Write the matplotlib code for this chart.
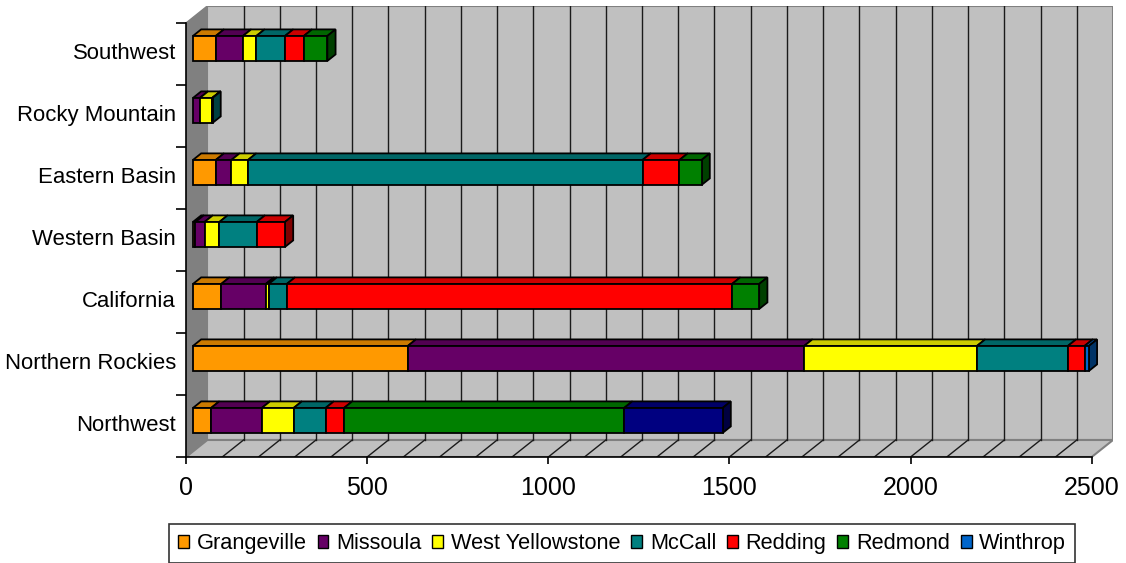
import matplotlib
matplotlib.use("Agg")
import matplotlib.pyplot as plt
from matplotlib.patches import Polygon, Patch
from matplotlib.colors import to_rgb

plt.rcParams["font.family"] = ["Liberation Sans", "DejaVu Sans"]

# Regions, bottom to top
regions = ["Northwest", "Northern Rockies", "California", "Western Basin",
           "Eastern Basin", "Rocky Mountain", "Southwest"]
stations = ["Grangeville", "Missoula", "West Yellowstone", "McCall",
            "Redding", "Redmond", "Winthrop"]

grangeville      = [50, 593, 78, 7, 63, 0, 63]
missoula         = [140, 1094, 123, 25, 43, 19, 75]
west_yellowstone = [88, 477, 8, 41, 46, 34, 37]
mccall           = [88, 251, 50, 103, 1089, 1, 79]
redding          = [51, 46, 1229, 78, 102, 0, 52]
redmond          = [773, 0, 75, 0, 61, 0, 65]
winthrop         = [272, 12, 0, 0, 0, 0, 0]

series = [grangeville, missoula, west_yellowstone, mccall, redding, redmond, winthrop]
colors = ["#FF9900", "#660066", "#FFFF00", "#008080", "#FF0000", "#008000", "#0066CC"]
point_colors = {("Northwest", "Winthrop"): "#000080"}

xticks = [0, 500, 1000, 1500, 2000, 2500]
xmax = 2500

W, H = 1126, 563
fig = plt.figure(figsize=(W / 100, H / 100), dpi=100)

# plot-area geometry (pixels)
px_left, px_x2500, px_back_right = 186, 1091.7, 1113
px_floor, px_top_front, px_top_back = 457, 23, 6
sx = (px_x2500 - px_left) / xmax
sy = (px_floor - px_top_front) / len(regions)
DX = (px_back_right - px_x2500) / sx          # full depth, x data units
DY = (px_top_front - px_top_back) / sy        # full depth, category units

ax = fig.add_axes([px_left / W, (H - px_floor) / H,
                   (px_back_right - px_left) / W, (px_floor - px_top_back) / H])
ax.set_xlim(0, xmax + DX)
ax.set_ylim(-0.5, len(regions) - 0.5 + DY)
ax.patch.set_visible(False)

y0, y1 = -0.5, len(regions) - 0.5
wall_grey, wall_edge = "#C0C0C0", "#808080"

# back wall
ax.add_patch(Polygon([(DX, y0 + DY), (xmax + DX, y0 + DY), (xmax + DX, y1 + DY), (DX, y1 + DY)],
                     closed=True, facecolor=wall_grey, edgecolor=wall_edge, lw=1.5, zorder=0))
# side wall
ax.add_patch(Polygon([(0, y0), (DX, y0 + DY), (DX, y1 + DY), (0, y1)],
                     closed=True, facecolor="#808080", edgecolor=wall_edge, lw=1.0, zorder=0.5))
# floor
ax.add_patch(Polygon([(0, y0), (xmax, y0), (xmax + DX, y0 + DY), (DX, y0 + DY)],
                     closed=True, facecolor=wall_grey, edgecolor=wall_edge, lw=1.5, zorder=0.5))

# gridlines on back wall and floor
for v in range(100, xmax, 100):
    ax.plot([v + DX, v + DX], [y0 + DY, y1 + DY], color="#1a1a1a", lw=1.0, zorder=1)
    ax.plot([v, v + DX], [y0, y0 + DY], color="#1a1a1a", lw=1.0, zorder=1)

# stacked 3D bars
f_front, f_depth = 0.326, 0.386
bar_h = 25 / sy
bdx, bdy = f_depth * DX, f_depth * DY


def shade(c, k):
    r, g, b = to_rgb(c)
    return (r * k, g * k, b * k)


for i, region in enumerate(regions):
    yc = i + f_front * DY
    bot, top = yc - bar_h / 2, yc + bar_h / 2
    cum = 0.0
    last = None
    for name, vals, col in zip(stations, series, colors):
        v = vals[i]
        if v <= 0:
            continue
        col = point_colors.get((region, name), col)
        x0 = f_front * DX + cum
        x1 = x0 + v
        ax.barh(yc, v, left=x0, height=bar_h, color=col, edgecolor="black",
                lw=1.3, zorder=3)
        ax.add_patch(Polygon([(x0, top), (x1, top), (x1 + bdx, top + bdy), (x0 + bdx, top + bdy)],
                             closed=True, facecolor=shade(col, 0.8), edgecolor="black",
                             lw=1.3, zorder=2.9))
        last = (x1, col)
        cum += v
    if last is not None:
        x1, col = last
        ax.add_patch(Polygon([(x1, bot), (x1 + bdx, bot + bdy), (x1 + bdx, top + bdy), (x1, top)],
                             closed=True, facecolor=shade(col, 0.5), edgecolor="black",
                             lw=1.3, zorder=2.9))

# axes
for s in ("top", "right"):
    ax.spines[s].set_visible(False)
for s in ("left", "bottom"):
    ax.spines[s].set_color("black")
    ax.spines[s].set_linewidth(1.2)
    ax.spines[s].set_zorder(4)
ax.spines["bottom"].set_bounds(0, xmax)
ax.spines["left"].set_bounds(y0, y1)

ax.set_xticks(xticks)
ax.set_xticklabels([str(t) for t in xticks], fontsize=18)
ax.tick_params(axis="x", direction="out", length=5, width=1.2, pad=9)

ax.set_yticks([k - 0.5 for k in range(len(regions) + 1)])
ax.set_yticklabels([])
ax.set_yticks([k + 0.05 for k in range(len(regions))], minor=True)
ax.set_yticklabels(regions, minor=True, fontsize=15.9)
ax.tick_params(axis="y", which="major", direction="out", length=7, width=1.2)
ax.tick_params(axis="y", which="minor", length=0, pad=7.3)

handles = [Patch(facecolor=c, edgecolor="black", lw=1.0) for c in colors]
leg = fig.legend(handles, stations, loc="upper left",
                 bbox_to_anchor=(169 / W, 1 - 524 / H), ncol=7, fontsize=15.7,
                 frameon=True, fancybox=False, edgecolor="black",
                 handlelength=0.5, handleheight=0.5, handletextpad=0.35,
                 columnspacing=0.5, borderpad=0.42, borderaxespad=0)
leg.get_frame().set_linewidth(1.2)

fig.savefig("out.png", dpi=100)
